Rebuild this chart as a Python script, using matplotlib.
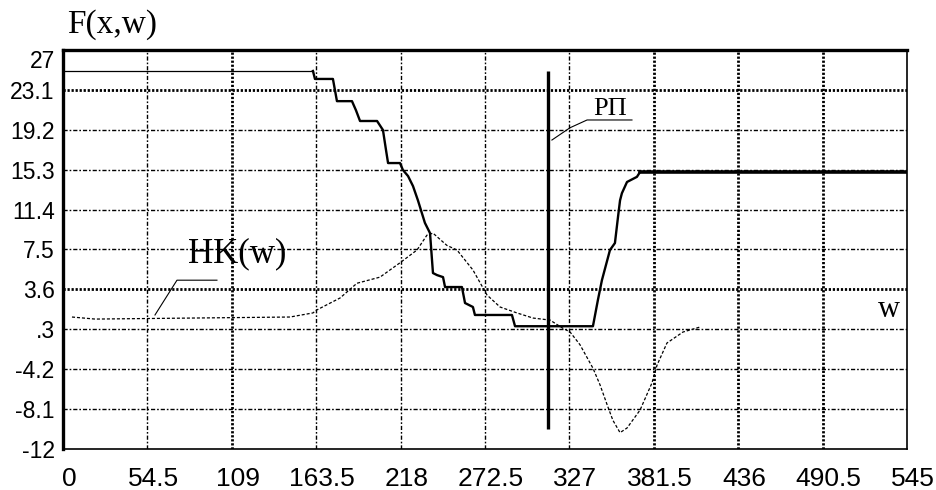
import matplotlib
matplotlib.use("Agg")
import matplotlib.pyplot as plt
from matplotlib import font_manager
from matplotlib.transforms import ScaledTranslation

# tick values and labels
x_ticks = [0, 54.5, 109, 163.5, 218, 272.5, 327, 381.5, 436, 490.5, 545]
x_labels = ["0", "54.5", "109", "163.5", "218", "272.5", "327", "381.5", "436", "490.5", "545"]
y_ticks = [27, 23.1, 19.2, 15.3, 11.4, 7.5, 3.6, -0.3, -4.2, -8.1, -12]
y_labels = ["27", "23.1", "19.2", "15.3", "11.4", "7.5", "3.6", ".3", "-4.2", "-8.1", "-12"]
bold_vgrid = [109, 381.5, 436, 490.5]
bold_hgrid = [23.1, 3.6]

# F(x,w) staircase curve
f_x = [0, 161.4, 162.7, 174.3, 176.9, 186.6, 189.2, 191.8, 202.8, 206.6, 208.6, 209.9,
       217.6, 219.5, 222.8, 226.0, 229.2, 233.7, 237.0, 238.9, 241.5, 245.4, 246.7,
       257.6, 259.6, 264.7, 266.0, 289.9, 291.9, 342.2, 345.4, 348.0, 353.2, 356.4,
       358.4, 359.7, 360.9, 364.2, 370.6, 372.6, 545]
f_y = [24.95, 24.95, 24.17, 24.17, 22.0, 22.0, 21.1, 20.06, 20.06, 19.18, 17.2, 15.95,
       15.95, 15.27, 14.68, 13.7, 12.3, 10.1, 9.1, 5.2, 5.0, 4.8, 3.83,
       3.83, 2.27, 1.88, 1.1, 1.1, 0.0, 0.0, 2.56, 4.5, 7.45, 8.13,
       10.7, 12.3, 13.0, 14.1, 14.6, 15.07, 15.07]

# HK(w) curve
hk_x = [5.8, 20.7, 146.6, 161.4, 164.0, 178.9, 189.8, 204.7, 217.6, 228.6, 235.0, 238.9,
        247.9, 254.4, 264.7, 273.8, 282.2, 293.1, 303.5, 314.5, 322.8, 327.4, 333.8,
        342.2, 346.7, 351.9, 355.1, 359.7, 364.2, 372.6, 380.3, 383.6, 390.0, 400.3, 411.3]
hk_y = [0.9, 0.7, 0.9, 1.3, 1.6, 2.76, 4.2, 4.8, 6.2, 7.45, 8.9, 9.1,
        7.9, 7.45, 5.5, 3.05, 1.88, 1.3, 0.8, 0.6, -0.2, -0.56, -1.8,
        -4.1, -5.7, -7.9, -9.2, -10.4, -9.95, -8.2, -5.55, -3.8, -1.64, -0.57, -0.08]

# vertical line RP
rp_x = 313.2
rp_y = [-10.0, 24.95]

plt.rcParams['lines.scale_dashes'] = False
avail = {f.name for f in font_manager.fontManager.ttflist}
tick_font = 'Liberation Sans Narrow' if 'Liberation Sans Narrow' in avail else 'Liberation Sans'

fig = plt.figure(figsize=(9.36, 4.9), dpi=100)
ax = fig.add_axes([63 / 936, 1 - 449 / 490, (907 - 63) / 936, (449 - 50) / 490])

# grid
thin_ls = (0, (3.0, 1.4, 1.2, 1.4))
bold_ls = (0, (1.6, 1.3))
for xv in x_ticks[1:-1]:
    if xv in bold_vgrid:
        ax.axvline(xv, color='black', lw=2.0, ls=bold_ls, zorder=1)
    else:
        ax.axvline(xv, color='black', lw=1.0, ls=thin_ls, zorder=1)
for yv in y_ticks[1:-1]:
    if yv in bold_hgrid:
        ax.axhline(yv, color='black', lw=2.0, ls=bold_ls, zorder=1)
    else:
        ax.axhline(yv, color='black', lw=1.0, ls=thin_ls, zorder=1)

# F curve: thin flat start, medium staircase, thick flat end
i1 = f_x.index(161.4)
i2 = f_x.index(372.6)
ax.plot(f_x[:i1 + 1], f_y[:i1 + 1], color='black', lw=0.9, zorder=3)
ax.plot(f_x[i1:i2 + 1], f_y[i1:i2 + 1], color='black', lw=1.7, zorder=3)
ax.plot(f_x[i2:], f_y[i2:], color='black', lw=2.6, zorder=3)

# HK curve
ax.plot(hk_x, hk_y, color='black', lw=0.9, ls=(0, (2.2, 1.4)), zorder=3)

# RP vertical line
ax.plot([rp_x, rp_x], rp_y, color='black', lw=2.4, solid_capstyle='butt', zorder=4)

# labels with leaders
ax.plot([59.4, 73.6, 99.4], [1.1, 4.5, 4.5], color='black', lw=0.8, zorder=4)
ax.text(81, 6.2, "HK(w)", family='Liberation Serif', fontsize=25, va='baseline', ha='left', zorder=5)
ax.plot([315.7, 327.4, 338.4, 367.4], [18.2, 19.4, 20.16, 20.16], color='black', lw=0.8, zorder=4)
ax.text(342.2, 20.6, "РП", family='Liberation Serif', fontsize=19, va='baseline', ha='left', zorder=5)
ax.text(526, 0.9, "w", family='Liberation Serif', fontsize=22, va='baseline', ha='left', zorder=5)
fig.text(67 / 936, 1 - 33 / 490, "F(x,w)", family='Liberation Serif', fontsize=24, va='baseline', ha='left')

ax.set_xlim(0, 545)
ax.set_ylim(-12, 27)
ax.set_xticks(x_ticks)
ax.set_xticklabels(x_labels, family=tick_font, fontsize=19)
ax.set_yticks(y_ticks)
ax.set_yticklabels(y_labels, family='Liberation Sans', fontsize=16.5)
ax.tick_params(axis='both', length=0)
ax.tick_params(axis='x', pad=13)
ax.tick_params(axis='y', pad=6)
for lab in ax.get_xticklabels():
    lab.set_transform(lab.get_transform() + ScaledTranslation(0.06, 0, fig.dpi_scale_trans))
ax.get_yticklabels()[0].set_va('top')

ax.spines['left'].set_linewidth(2.4)
ax.spines['top'].set_linewidth(2.4)
ax.spines['bottom'].set_linewidth(1.2)
ax.spines['right'].set_linewidth(1.2)
for s in ax.spines.values():
    s.set_zorder(6)

fig.savefig('out.png', dpi=100)
